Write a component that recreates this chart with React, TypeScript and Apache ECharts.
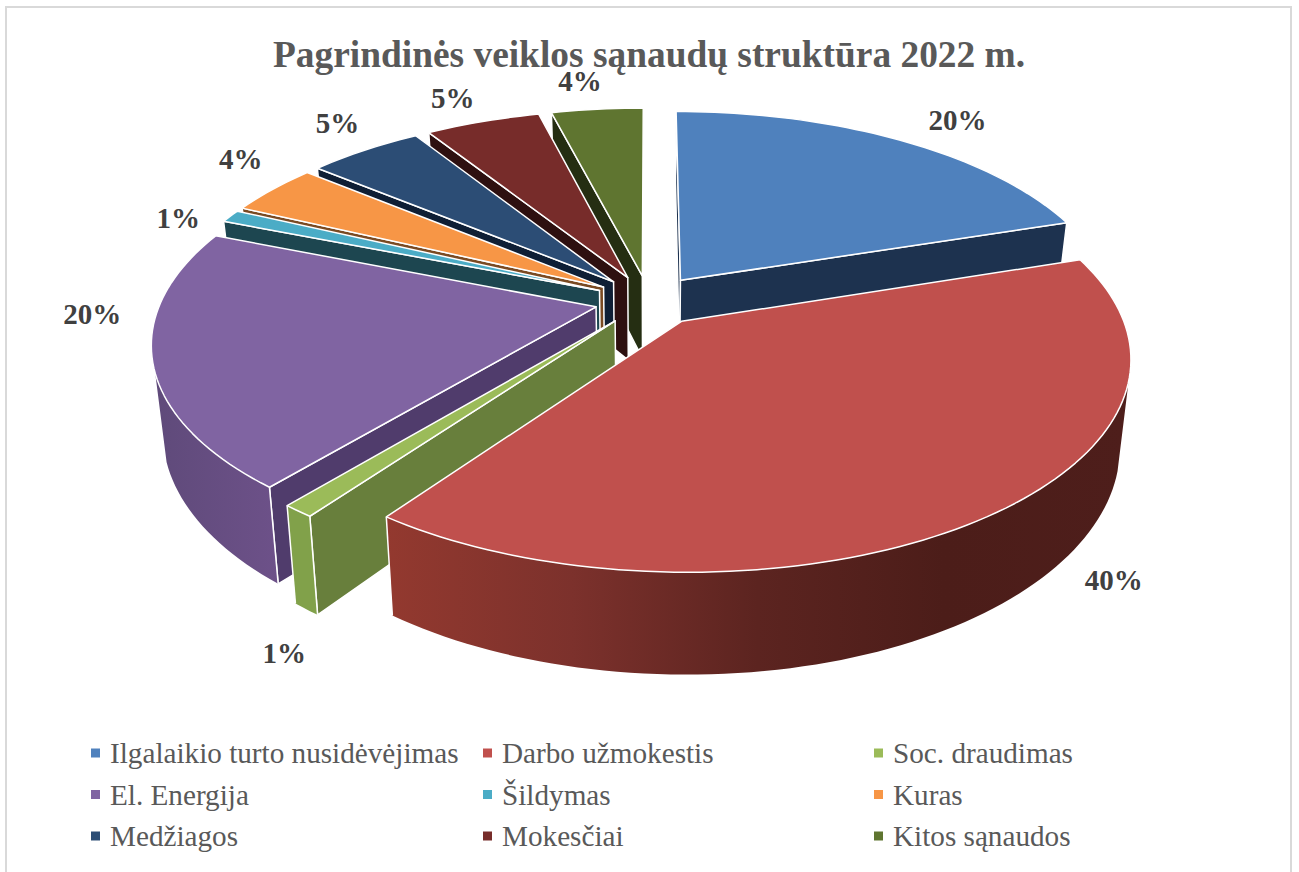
import React, { useEffect, useRef } from "react";
import * as echarts from "echarts";

const categories = ["Ilgalaikio turto nusidėvėjimas", "Darbo užmokestis", "Soc. draudimas", "El. Energija", "Šildymas", "Kuras", "Medžiagos", "Mokesčiai", "Kitos sąnaudos"];
const shares = [20, 40, 1, 20, 1, 4, 5, 5, 4];
const topColors = ["#4f81bd", "#c0504d", "#9bbb59", "#8064a2", "#4bacc6", "#f79646", "#2c4d75", "#772c2a", "#5f7530"];
const wallColors = ["#1d324f", "#6e2c28", "#687f3c", "#503c6c", "#1d4650", "#7a4a22", "#0f1f35", "#2e1010", "#252e12"];
const rimStops: (string[])[] = [["#1d324f"], ["#93392f", "#7c312c", "#5c2420", "#4c1d19", "#4e1e1b"], ["#81a14a"], ["#5f4a7a", "#6d5189"], ["#1d4650"], ["#7a4a22"], ["#0f1f35"], ["#2e1010"], ["#252e12"]];
const paintOrder = [0, 8, 7, 6, 5, 4, 3, 2, 1];
const labelShift = [[58, -20], [127, 63], [-14, 142], [-60, -46], [-52, 2], [-32, -30], [-27, -27], [-30, -24], [-17, -28]];
const legendColumns = [[0, 3, 6], [1, 4, 7], [2, 5, 8]];
const legendLeft = [91, 483, 874];

const CX = 649, CY = 300.5, A = 435, B = 202.5, P = 0.163, EXPLODE = 0.125, H = 84, K = 0.023;
const TAU = Math.PI * 2;
const RIM_FROM = (106 / 360) * TAU;
const RIM_TO = (252 / 360) * TAU;
const total = shares.reduce((s, v) => s + v, 0);

function project(X: number, Y: number, low: boolean): number[] {
  const w = 1 / (1 - P * Y);
  const sx = CX + A * X * w;
  const sy = CY + B * Y * w;
  return low ? [CX + (sx - CX) * (1 - K), sy + H * w] : [sx, sy];
}

function sweep(a0: number, a1: number): number[] {
  const steps = Math.max(2, Math.ceil((a1 - a0) / (TAU / 240)));
  return Array.from({ length: steps + 1 }, (_, k) => a0 + ((a1 - a0) * k) / steps);
}

function renderSlice(i: number) {
  return () => {
    const before = shares.slice(0, i).reduce((s, v) => s + v, 0);
    const a0 = (before / total) * TAU;
    const a1 = ((before + shares[i]) / total) * TAU;
    const mid = (a0 + a1) / 2;
    const ex = Math.sin(mid) * EXPLODE;
    const ey = -Math.cos(mid) * EXPLODE;
    const at = (a: number, r: number, low: boolean) => project(ex + r * Math.sin(a), ey - r * Math.cos(a), low);
    const apexTop = at(0, 0, false);
    const apexLow = at(0, 0, true);
    const edge = { stroke: "#ffffff", lineWidth: 1.5, lineJoin: "round" };
    const children: any[] = [];
    const wall = (a: number) => ({
      type: "polygon",
      shape: { points: [apexTop, at(a, 1, false), at(a, 1, true), apexLow] },
      style: { fill: wallColors[i], ...edge },
    });
    if (Math.sin(a0) <= 1e-9) children.push(wall(a0));
    if (Math.sin(a1) > 1e-9) children.push(wall(a1));
    const r0 = Math.max(a0, RIM_FROM);
    const r1 = Math.min(a1, RIM_TO);
    if (r1 > r0) {
      const span = sweep(r0, r1);
      const stops = rimStops[i];
      const rimFill = stops.length === 1
        ? stops[0]
        : new echarts.graphic.LinearGradient(0, 0, 1, 0, stops.map((color, k) => ({ offset: k / (stops.length - 1), color })));
      children.push({
        type: "polygon",
        shape: { points: [...span.map((a) => at(a, 1, false)), ...span.slice().reverse().map((a) => at(a, 1, true))] },
        style: { fill: rimFill },
      });
      [[a0, r0], [a1, r1]].forEach(([end, clipped]) => {
        if (end === clipped) {
          children.push({ type: "line", shape: { x1: at(end, 1, false)[0], y1: at(end, 1, false)[1], x2: at(end, 1, true)[0], y2: at(end, 1, true)[1] }, style: { stroke: "#ffffff", lineWidth: 1.5 } });
        }
      });
    }
    children.push({ type: "polygon", shape: { points: [apexTop, ...sweep(a0, a1).map((a) => at(a, 1, false))] }, style: { fill: topColors[i], ...edge } });
    const base = at(mid, 1, false);
    children.push({
      type: "text",
      z2: 50,
      style: {
        text: `${shares[i]}%`,
        x: base[0] + labelShift[i][0],
        y: base[1] + labelShift[i][1],
        align: "center",
        verticalAlign: "middle",
        fill: "#404040",
        font: 'bold 29px "Liberation Serif"',
      },
    });
    return { type: "group", children };
  };
}

export default function App() {
  const ref = useRef<HTMLDivElement>(null);
  useEffect(() => {
    const chart = echarts.init(ref.current!, undefined, { renderer: "svg" });
    chart.setOption({
      animation: false,
      backgroundColor: "#ffffff",
      title: {
        text: "Pagrindinės veiklos sąnaudų struktūra 2022 m.",
        left: 644,
        top: 31,
        textAlign: "center",
        textStyle: { fontFamily: "Liberation Serif", fontSize: 37.4, fontWeight: "bold", color: "#595959" },
      },
      legend: legendColumns.map((col, c) => ({
        orient: "vertical",
        left: legendLeft[c],
        top: 738,
        itemWidth: 9,
        itemHeight: 9,
        itemGap: 11.5,
        selectedMode: false,
        padding: 0,
        textStyle: { fontFamily: "Liberation Serif", fontSize: 29.2, color: "#595959", lineHeight: 30, padding: [0, 0, 0, 5] },
        data: col.map((i) => ({ name: categories[i], icon: "rect", itemStyle: { color: topColors[i] } })),
      })),
      graphic: [
        { type: "rect", silent: true, z: -1, shape: { x: 6, y: 7, width: 1285, height: 900 }, style: { fill: "none", stroke: "#d9d9d9", lineWidth: 2 } },
      ],
      series: paintOrder.map((i) => ({
        type: "custom",
        name: categories[i],
        coordinateSystem: "none",
        silent: true,
        itemStyle: { color: topColors[i] },
        data: [[shares[i]]],
        renderItem: renderSlice(i),
      })),
    });
    return () => chart.dispose();
  }, []);
  return <div ref={ref} style={{ position: "fixed", left: 0, top: 0, width: 1299, height: 872 }} />;
}
